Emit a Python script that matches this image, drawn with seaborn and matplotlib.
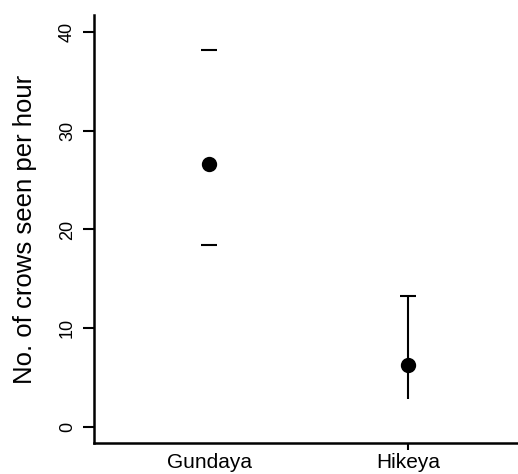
import matplotlib
matplotlib.use("Agg")
import matplotlib.pyplot as plt
import seaborn as sns
import pandas as pd

categories = ["Gundaya", "Hikeya"]
means = [26.6, 6.3]
upper = [38.2, 13.3]
lower = [18.4, 2.9]
show_stem = [False, True]
show_lower_cap = [True, False]
yticks = [0, 10, 20, 30, 40]

sns.set_theme(style="ticks")
plt.rcParams['font.family'] = ['Liberation Sans', 'DejaVu Sans']

df = pd.DataFrame({"site": categories, "mean": means})

fig = plt.figure(figsize=(5.18, 4.74), dpi=100)
ax = fig.add_axes([94/518, 31/474, (518-94)/518 + 0.01, (443-15)/474])

sns.pointplot(data=df, x="site", y="mean", color="black", linestyle="none",
              errorbar=None, markers="o", markersize=9, ax=ax)

for i, (m, lo, hi, s, lc) in enumerate(zip(means, lower, upper, show_stem, show_lower_cap)):
    eb = ax.errorbar([i], [m], yerr=[[m - lo], [hi - m]], fmt="none", ecolor="black",
                     elinewidth=1.5 if s else 0, capsize=6, capthick=1.5)
    if not lc:
        eb[1][0].set_visible(False)

ax.set_xlim(-0.58, 1.58)
ax.set_ylim(-1.6, 41.7)
ax.set_yticks(yticks)
ax.set_yticklabels([str(t) for t in yticks], rotation=90, va="center")
ax.set_xlabel("")
ax.set_ylabel("No. of crows seen per hour", fontsize=18.5, labelpad=16, color="black")
ax.tick_params(axis="y", labelsize=13, length=8, width=1.5, colors="black", pad=5)
ax.tick_params(axis="x", labelsize=15, length=5, width=1.5, colors="black", pad=2)
ax.xaxis.get_major_ticks()[0].tick1line.set_visible(False)
for side in ["top", "right"]:
    ax.spines[side].set_visible(False)
for side in ["left", "bottom"]:
    ax.spines[side].set_linewidth(1.8)
    ax.spines[side].set_color("black")

fig.savefig("out.png", dpi=100)
